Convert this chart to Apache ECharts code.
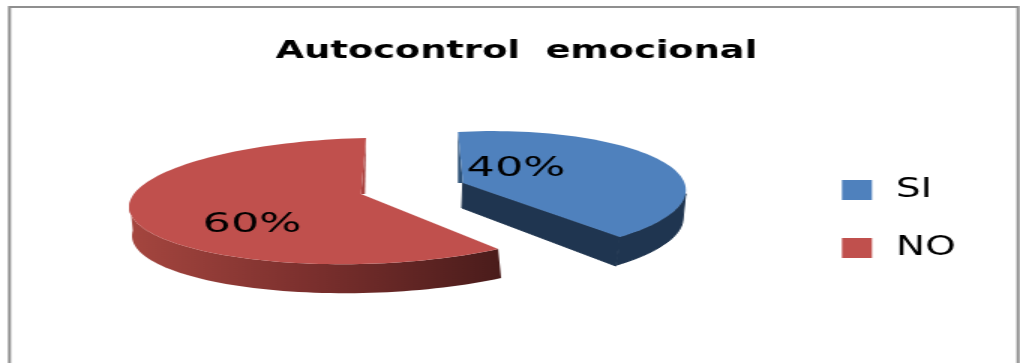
<!DOCTYPE html>
<html>
<head>
<meta charset="utf-8">
<style>
html,body{margin:0;padding:0;background:#fff;overflow:hidden;width:1020px;height:363px}
#chart{position:absolute;left:0;top:0;width:680px;height:363px;transform:scaleX(1.5);transform-origin:0 0}
</style>
<script src="https://cdn.jsdelivr.net/npm/echarts@6/dist/echarts.min.js"></script>
</head>
<body>
<div id="chart"></div>
<script>
const titleText = 'Autocontrol  emocional';
const categories = ['SI', 'NO'];
const percentValues = [40, 60];
const sliceColors = ['#4f81bd', '#c0504d'];

// The reference is a horizontally stretched picture: draw at 1/1.5 width, stretch with CSS.
const K = 1.5;
const X = function (x) { return x / K; };

// Projection of each exploded slice (page pixels): ellipse centre, axes, apex, wall.
const sliceGeometry = [
  { ex: 481.5, ey: 193.5, ux: 203, uy: -10.6, vx: 23.5, vy: 61.5, ax: 463, ay: 183,
    wallFrom: 100, wallTo: 144, wallDx: -3, wallDy: 28, edgeDx: -5,
    wallFill: '#1f3550', edgeFill: '#2c5076', inner: true, labelX: 516, labelY: 169 },
  { ex: 363, ey: 201, ux: 234, uy: -5, vx: -3, vy: 63, ax: 361, ay: 194,
    wallFrom: 144, wallTo: 274, wallDx: 3, wallDy: 29, edgeDx: 4,
    wallFill: { type: 'linear', x: 1, y: 0, x2: 0, y2: 0, colorStops: [
      { offset: 0, color: '#4a1c1b' }, { offset: 0.5, color: '#7a2f2d' }, { offset: 1, color: '#a5463f' }
    ] }, edgeFill: '#a8423f', inner: false, labelX: 252, labelY: 225 }
];

const totalPercent = percentValues.reduce(function (a, b) { return a + b; }, 0);

function point(g, deg, dx, dy) {
  const t = deg * Math.PI / 180, s = Math.sin(t), c = Math.cos(t);
  return [X(g.ex + g.ux * s - g.vx * c + (dx || 0)), g.ey + g.uy * s - g.vy * c + (dy || 0)];
}
function arc(g, from, to, dx, dy) {
  const pts = [], n = Math.max(2, Math.ceil(Math.abs(to - from) / 2));
  for (let i = 0; i <= n; i++) pts.push(point(g, from + (to - from) * i / n, dx, dy));
  return pts;
}

function makeRender(index) {
  return function (params, api) {
    const g = sliceGeometry[index];
    const value = api.value(0);
    let before = 0;
    for (let i = 0; i < index; i++) before += percentValues[i];
    const start = before / totalPercent * 360;
    const end = (before + value) / totalPercent * 360;
    const apex = [X(g.ax), g.ay];
    const children = [];

    // outer wall (and inner cut face for the front-facing slice)
    const wall = arc(g, g.wallFrom, g.wallTo).concat(arc(g, g.wallTo, g.wallFrom, g.wallDx, g.wallDy));
    const seam = g.inner ? { stroke: g.wallFill, lineWidth: 1 } : {};
    children.push({ type: 'polygon', shape: { points: wall }, style: Object.assign({ fill: g.wallFill }, seam) });
    if (g.inner) {
      const p = point(g, end), q = point(g, end, g.wallDx - 1, g.wallDy + 1);
      children.push({ type: 'polygon', shape: { points: [apex, p, q, [X(g.ax - 1), g.ay + 25]] }, style: Object.assign({ fill: g.wallFill }, seam) });
    }
    // thin visible face along the start edge
    const first = index === 0 ? point(g, start) : point(g, end);
    children.push({ type: 'polygon', shape: { points: [first, apex, [X(g.ax + g.edgeDx), g.ay]] }, style: { fill: g.edgeFill } });
    // top face
    children.push({ type: 'polygon', shape: { points: [apex].concat(arc(g, start, end)) }, style: { fill: sliceColors[index] } });
    // label
    children.push({ type: 'text', x: X(g.labelX), y: g.labelY, scaleX: 1.1, style: {
      text: value + '%', x: 0, y: 0, align: 'center', verticalAlign: 'middle',
      fill: '#000', font: '27px "DejaVu Sans"'
    } });
    return { type: 'group', children: children };
  };
}

const chart = echarts.init(document.getElementById('chart'), null, { renderer: 'canvas' });
chart.setOption({
  animation: false,
  backgroundColor: '#ffffff',
  title: {
    text: titleText,
    left: X(509), top: 34, textAlign: 'center',
    textStyle: { fontFamily: 'DejaVu Sans', fontWeight: 'bold', fontSize: 24.5, color: '#000' }
  },
  legend: {
    orient: 'vertical',
    left: X(834.5), top: 172,
    itemWidth: X(30), itemHeight: 20, itemGap: 32,
    icon: 'rect',
    data: categories,
    selectedMode: false,
    textStyle: { fontFamily: 'DejaVu Sans', fontSize: 26, color: '#000', padding: [4, 0, 0, 11] }
  },
  graphic: [{
    type: 'rect', silent: true, z: -1,
    shape: { x: X(9.5), y: 7, width: X(1008.5), height: 420 },
    style: { fill: 'none', stroke: '#8f8f8f', lineWidth: 2 }
  }],
  series: categories.map(function (name, i) {
    return {
      type: 'custom', name: name, coordinateSystem: 'none',
      itemStyle: { color: sliceColors[i] },
      data: [[percentValues[i]]],
      renderItem: makeRender(i),
      silent: true
    };
  })
});
</script>
</body>
</html>
